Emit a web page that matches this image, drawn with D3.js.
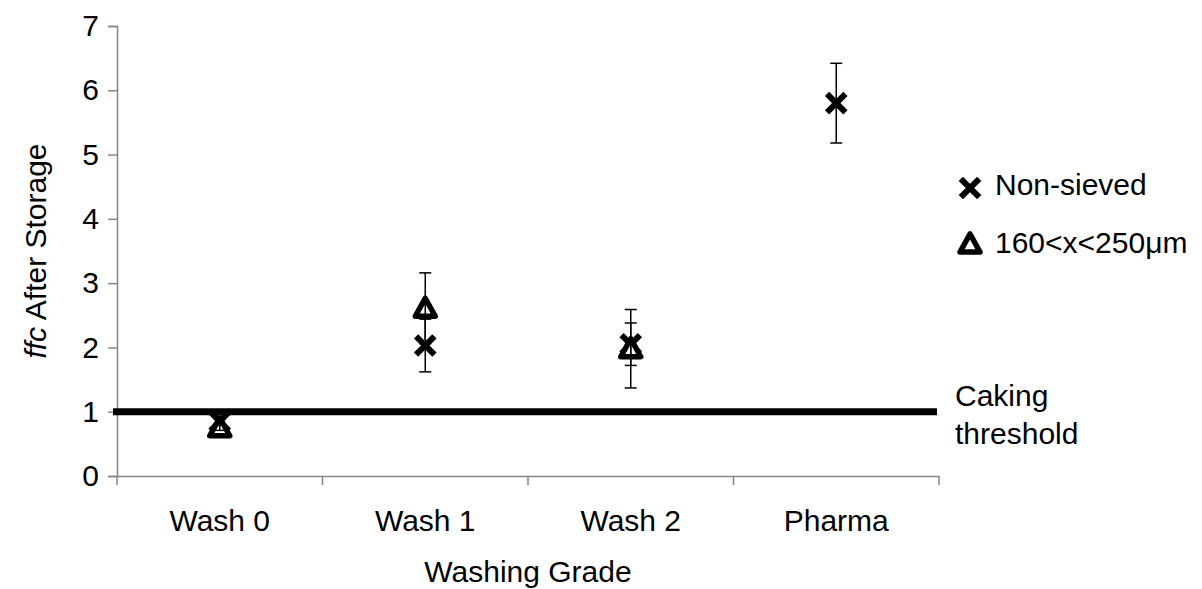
<html lang="en">
<head>
<meta charset="utf-8">
<title>ffc after storage</title>
<script src="https://d3js.org/d3.v7.min.js"></script>
<style>
  body { margin: 0; background: #fff; }
  text { font-family: "Liberation Sans", Arial, sans-serif; fill: #000; }
</style>
</head>
<body>
<div id="chart"></div>
<script>
// data
var categories = ["Wash 0", "Wash 1", "Wash 2", "Pharma"];
var nonSieved    = [0.85, 2.03, 2.05, 5.80];
var nonSievedErr = [0.04, 0.41, 0.33, 0.62];
var sieved       = [0.75, 2.61, 1.98, null];
var sievedErr    = [0.04, 0.55, 0.61, null];
var yTicks = [0, 1, 2, 3, 4, 5, 6, 7];
var threshold = 1;

var fs = "30px";
var margin = {top: 26, right: 263, bottom: 113, left: 117},
    width = 1202 - margin.left - margin.right,
    height = 589 - margin.top - margin.bottom;

var svg = d3.select("#chart")
  .append("svg")
    .attr("width", 1202)
    .attr("height", 589)
  .append("g")
    .attr("transform", "translate(" + margin.left + "," + margin.top + ")");

var x = d3.scaleBand().domain(categories).range([0, width]);
var y = d3.scaleLinear().domain([0, 7]).range([height, 0]);

// axes
var xAxis = svg.append("g")
  .attr("transform", "translate(0," + height + ")")
  .call(d3.axisBottom(x).tickSize(0).tickPadding(34));
xAxis.select(".domain").attr("stroke", "#868686").attr("stroke-width", 1.5);
xAxis.selectAll("text").style("font-size", fs);
// ticks between the categories
xAxis.selectAll(".sep")
  .data(d3.range(categories.length + 1))
  .enter().append("line")
    .attr("x1", function(i) { return i * x.step(); })
    .attr("x2", function(i) { return i * x.step(); })
    .attr("y1", 0).attr("y2", 9)
    .attr("stroke", "#868686").attr("stroke-width", 1.5);

var yAxis = svg.append("g")
  .call(d3.axisLeft(y).tickValues(yTicks).tickFormat(d3.format("d")).tickSize(9).tickPadding(9));
yAxis.select(".domain").attr("stroke", "#868686").attr("stroke-width", 1.5);
yAxis.selectAll(".tick line").attr("stroke", "#868686").attr("stroke-width", 1.5);
yAxis.selectAll("text").style("font-size", fs);

// axis titles
svg.append("text")
  .attr("text-anchor", "middle")
  .attr("x", width / 2)
  .attr("y", height + 106)
  .style("font-size", fs)
  .text("Washing Grade");

var yt = svg.append("text")
  .attr("text-anchor", "middle")
  .attr("transform", "translate(" + (-71) + "," + (height / 2) + ") rotate(-90)")
  .style("font-size", fs);
yt.append("tspan").style("font-style", "italic").text("ffc");
yt.append("tspan").text(" After Storage");

// markers
function crossPath(s) {
  return "M" + (-s) + "," + (-s) + "L" + s + "," + s + "M" + (-s) + "," + s + "L" + s + "," + (-s);
}
var triPath = "M0,-10L10,8L-10,8Z";

function drawCross(g, cx, cy) {
  g.append("path")
    .attr("transform", "translate(" + cx + "," + cy + ")")
    .attr("d", crossPath(9.2))
    .attr("stroke", "#000").attr("stroke-width", 6).attr("fill", "none");
}
function drawTri(g, cx, cy) {
  g.append("path")
    .attr("transform", "translate(" + cx + "," + cy + ")")
    .attr("d", triPath)
    .attr("stroke", "#000").attr("stroke-width", 5.5).attr("stroke-linejoin", "round")
    .attr("fill", "#fff");
}

var cx = function(i) { return x(categories[i]) + x.bandwidth() / 2; };

var marks = svg.append("g");
categories.forEach(function(c, i) {
  drawCross(marks, cx(i), y(nonSieved[i]));
  if (sieved[i] != null) drawTri(marks, cx(i), y(sieved[i]));
});

// error bars
function errBars(vals, errs) {
  categories.forEach(function(c, i) {
    if (vals[i] == null) return;
    var lo = y(vals[i] - errs[i]), hi = y(vals[i] + errs[i]), px = cx(i);
    var g = svg.append("g").attr("stroke", "#000").attr("stroke-width", 1.5);
    g.append("line").attr("x1", px).attr("x2", px).attr("y1", lo).attr("y2", hi);
    g.append("line").attr("x1", px - 6).attr("x2", px + 6).attr("y1", lo).attr("y2", lo);
    g.append("line").attr("x1", px - 6).attr("x2", px + 6).attr("y1", hi).attr("y2", hi);
  });
}
errBars(nonSieved, nonSievedErr);
errBars(sieved, sievedErr);

// caking threshold
svg.append("line")
  .attr("x1", -4).attr("x2", width - 2)
  .attr("y1", y(threshold)).attr("y2", y(threshold))
  .attr("stroke", "#000").attr("stroke-width", 7);
svg.append("text")
  .attr("x", width + 16).attr("y", y(threshold) - 6)
  .style("font-size", fs).text("Caking");
svg.append("text")
  .attr("x", width + 16).attr("y", y(threshold) + 32)
  .style("font-size", fs).text("threshold");

// legend
var legend = svg.append("g").attr("transform", "translate(" + (width + 31) + ",0)");
drawCross(legend, 0, 162);
legend.append("text").attr("x", 25).attr("y", 169).style("font-size", fs).text("Non-sieved");
drawTri(legend, 0, 218);
legend.append("text").attr("x", 25).attr("y", 227).style("font-size", fs).text("160<x<250μm");
</script>
</body>
</html>
